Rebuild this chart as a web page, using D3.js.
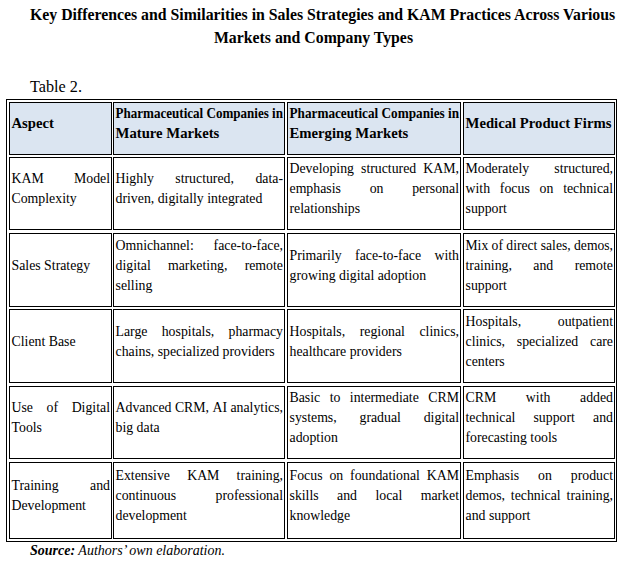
<!DOCTYPE html>
<html>
<head>
<meta charset="utf-8">
<script src="https://cdn.jsdelivr.net/npm/d3@7"></script>
<style>
  html, body { margin: 0; padding: 0; background: #fff; }
  svg { display: block; }
</style>
</head>
<body>
<svg id="chart" width="623" height="565"></svg>
<script>
// ---------------- DATA ----------------
const titleLines = [
  "Key Differences and Similarities in Sales Strategies and KAM Practices Across Various",
  "Markets and Company Types"
];
const tableLabel = "Table 2.";
const headers = [
  ["Aspect"],
  ["Pharmaceutical Companies in", "Mature Markets"],
  ["Pharmaceutical Companies in", "Emerging Markets"],
  ["Medical Product Firms"]
];
const aspects = [
  ["KAM Model", "Complexity"],
  ["Sales Strategy"],
  ["Client Base"],
  ["Use of Digital", "Tools"],
  ["Training and", "Development"]
];
const matureMarkets = [
  ["Highly structured, data-", "driven, digitally integrated"],
  ["Omnichannel: face-to-face,", "digital marketing, remote", "selling"],
  ["Large hospitals, pharmacy", "chains, specialized providers"],
  ["Advanced CRM, AI analytics,", "big data"],
  ["Extensive KAM training,", "continuous professional", "development"]
];
const emergingMarkets = [
  ["Developing structured KAM,", "emphasis on personal", "relationships"],
  ["Primarily face-to-face with", "growing digital adoption"],
  ["Hospitals, regional clinics,", "healthcare providers"],
  ["Basic to intermediate CRM", "systems, gradual digital", "adoption"],
  ["Focus on foundational KAM", "skills and local market", "knowledge"]
];
const medicalFirms = [
  ["Moderately structured,", "with focus on technical", "support"],
  ["Mix of direct sales, demos,", "training, and remote", "support"],
  ["Hospitals, outpatient", "clinics, specialized care", "centers"],
  ["CRM with added", "technical support and", "forecasting tools"],
  ["Emphasis on product", "demos, technical training,", "and support"]
];
const sourceBold = "Source:";
const sourceText = " Authors\u2019 own elaboration.";

// ---------------- LAYOUT ----------------
const FONT = "'Liberation Serif', 'Times New Roman', serif";
const colKeys = ["aspect", "mature", "emerging", "medical"];
const colLeft = d3.scaleOrdinal().domain(colKeys).range([9.5, 113.5, 287.5, 463.5]);
const colRight = d3.scaleOrdinal().domain(colKeys).range([111.5, 284.5, 460.5, 614.5]);
const rowKeys = ["header", "r1", "r2", "r3", "r4", "r5"];
const rowTop = d3.scaleOrdinal().domain(rowKeys).range([102.5, 157.5, 233.5, 309.5, 386.5, 462.5]);
const rowBottom = d3.scaleOrdinal().domain(rowKeys).range([154.5, 229.5, 306.5, 382.5, 458.5, 538.5]);
const LINE_H = 20;

const svg = d3.select("#chart");
svg.append("rect").attr("width", 623).attr("height", 565).attr("fill", "#fff");

function measure(str, size, weight, style) {
  const t = svg.append("text")
    .attr("font-family", FONT).attr("font-size", size)
    .attr("font-weight", weight || "normal").attr("font-style", style || "normal")
    .text(str);
  const w = t.node().getComputedTextLength();
  t.remove();
  return w;
}
function fitSize(str, target, weight, style) {
  const base = 20;
  return base * target / measure(str, base, weight, style);
}

const titleSize = fitSize(titleLines[0], 586, "bold");
const headSize = fitSize("Medical Product Firms", 146, "bold");
const bodySize = fitSize("driven, digitally integrated", 147, "normal");

// title
svg.append("text")
  .attr("x", 30).attr("y", 20)
  .attr("font-family", FONT).attr("font-size", titleSize).attr("font-weight", "bold")
  .attr("fill", "#000").text(titleLines[0]);
svg.append("text")
  .attr("x", 313.5).attr("y", 43).attr("text-anchor", "middle")
  .attr("font-family", FONT).attr("font-size", titleSize).attr("font-weight", "bold")
  .attr("fill", "#000").text(titleLines[1]);

// Table label
svg.append("text")
  .attr("x", 30).attr("y", 91.5)
  .attr("font-family", FONT).attr("font-size", fitSize(tableLabel, 52, "normal"))
  .attr("fill", "#000").text(tableLabel);

// outer border
svg.append("rect")
  .attr("x", 6.5).attr("y", 99.5).attr("width", 610).attr("height", 442)
  .attr("fill", "none").attr("stroke", "#000").attr("stroke-width", 1);

// cells
const columnsData = [aspects, matureMarkets, emergingMarkets, medicalFirms];
const cells = [];
headers.forEach((lines, ci) => cells.push({ row: "header", col: colKeys[ci], lines, header: true }));
aspects.forEach((_, ri) => {
  columnsData.forEach((arr, ci) => cells.push({ row: rowKeys[ri + 1], col: colKeys[ci], lines: arr[ri], header: false }));
});

const cellG = svg.append("g").selectAll("g.cell").data(cells).join("g").attr("class", "cell");

cellG.append("rect")
  .attr("x", d => colLeft(d.col))
  .attr("y", d => rowTop(d.row))
  .attr("width", d => colRight(d.col) - colLeft(d.col))
  .attr("height", d => rowBottom(d.row) - rowTop(d.row))
  .attr("fill", d => d.header ? "#dbe5f1" : "#fff")
  .attr("stroke", "#000").attr("stroke-width", 1);

cellG.each(function (d) {
  const g = d3.select(this);
  const size = d.header ? headSize : bodySize;
  const weight = d.header ? "bold" : "normal";
  const x0 = colLeft(d.col) + 2;
  const x1 = colRight(d.col) - 1.5;
  const avail = x1 - x0;
  const center = (rowTop(d.row) + rowBottom(d.row)) / 2 - (d.header ? 5 : 4.5);
  const n = d.lines.length;
  const mk = (y) => g.append("text").attr("y", y)
    .attr("font-family", FONT).attr("font-size", size).attr("font-weight", weight)
    .attr("fill", "#000");
  d.lines.forEach((line, li) => {
    const y = center - (n - 1) * LINE_H / 2 + li * LINE_H + 4;
    const justify = li < n - 1;
    const words = line.split(" ");
    const natural = measure(line, size, weight);
    if (natural > avail) {
      // squeeze a line that would not fit
      mk(y).attr("x", x0).attr("textLength", avail)
        .attr("lengthAdjust", "spacingAndGlyphs").text(line);
      return;
    }
    if (!justify || words.length === 1) {
      mk(y).attr("x", x0).text(line);
      return;
    }
    const nodes = words.map(w => mk(y).text(w));
    const widths = nodes.map(t => t.node().getComputedTextLength());
    const gap = (avail - d3.sum(widths)) / (words.length - 1);
    let x = x0;
    nodes.forEach((t, i) => { t.attr("x", x); x += widths[i] + gap; });
  });
});

// source
const srcSize = fitSize(sourceBold + sourceText, 193, "normal", "italic");
const src = svg.append("text")
  .attr("x", 30).attr("y", 555)
  .attr("font-family", FONT).attr("font-size", srcSize).attr("font-style", "italic")
  .attr("fill", "#000");
src.append("tspan").attr("font-weight", "bold").text(sourceBold);
src.append("tspan").text(sourceText);
</script>
</body>
</html>
